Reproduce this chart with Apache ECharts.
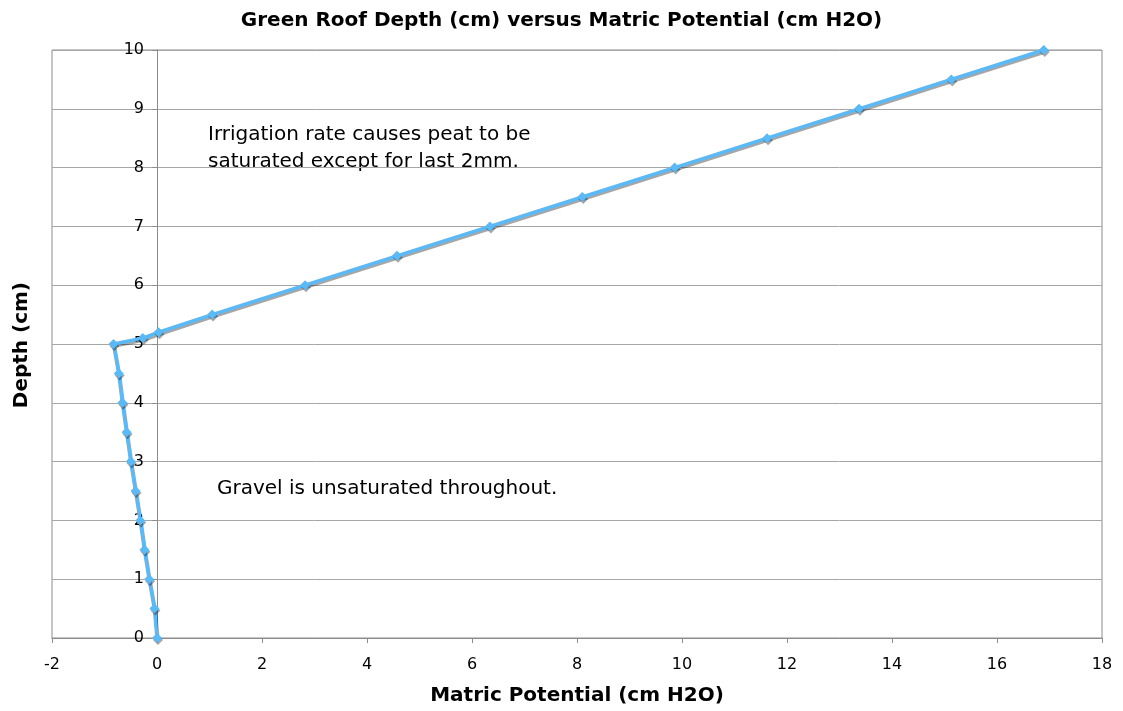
<!DOCTYPE html>
<html>
<head>
<meta charset="utf-8">
<script src="https://cdn.jsdelivr.net/npm/echarts@6/dist/echarts.min.js"></script>
<style>
  html, body { margin: 0; padding: 0; background: #fff; }
  #chart { width: 1123px; height: 711px; }
</style>
</head>
<body>
<div id="chart"></div>
<script>
// depth (cm) and matric potential (cm H2O)
const depth = [0, 0.5, 1, 1.5, 2, 2.5, 3, 3.5, 4, 4.5, 5, 5.1, 5.2, 5.5, 6, 6.5, 7, 7.5, 8, 8.5, 9, 9.5, 10];
const potential = [0, -0.05, -0.15, -0.24, -0.32, -0.41, -0.5, -0.58, -0.66, -0.73, -0.83, -0.27, 0.03, 1.05, 2.82, 4.57, 6.34, 8.1, 9.86, 11.62, 13.37, 15.13, 16.89];

const font = 'DejaVu Sans';
const chart = echarts.init(document.getElementById('chart'));

chart.setOption({
  animation: false,
  title: {
    text: 'Green Roof Depth (cm) versus Matric Potential (cm H2O)',
    left: 'center',
    top: 6,
    textStyle: { fontFamily: font, fontSize: 20, fontWeight: 'bold', color: '#000' }
  },
  grid: {
    left: 52, right: 21, top: 50, bottom: 72,
    show: true, borderColor: '#8c8c8c', borderWidth: 1
  },
  xAxis: {
    type: 'value',
    min: -2, max: 18, interval: 2,
    name: 'Matric Potential (cm H2O)',
    nameLocation: 'middle',
    nameGap: 48,
    nameTextStyle: { fontFamily: font, fontSize: 20, fontWeight: 'bold', color: '#000' },
    axisLine: { lineStyle: { color: '#8c8c8c' } },
    axisTick: { show: true, length: 5, lineStyle: { color: '#8c8c8c' } },
    axisLabel: { fontFamily: font, fontSize: 16, color: '#000', margin: 19 },
    splitLine: { show: false }
  },
  yAxis: {
    type: 'value',
    min: 0, max: 10, interval: 1,
    offset: -105,
    axisLine: { show: true, onZero: false, lineStyle: { color: '#8c8c8c' } },
    axisTick: { show: true, length: 5, lineStyle: { color: '#8c8c8c' } },
    axisLabel: { fontFamily: font, fontSize: 16, color: '#000', margin: 13 },
    splitLine: { show: true, lineStyle: { color: '#a6a6a6', width: 1 } }
  },
  graphic: [
    {
      type: 'text', left: 12, top: 282, rotation: Math.PI / 2,
      style: { text: 'Depth (cm)', fontFamily: font, fontSize: 20, fontWeight: 'bold', fill: '#000' }
    },
    {
      type: 'text', left: 208, top: 121,
      style: {
        text: 'Irrigation rate causes peat to be\nsaturated except for last 2mm.',
        fontFamily: font, fontSize: 20, lineHeight: 27, fill: '#000'
      }
    },
    {
      type: 'text', left: 217, top: 479,
      style: { text: 'Gravel is unsaturated throughout.', fontFamily: font, fontSize: 20, fill: '#000' }
    }
  ],
  series: [
    {
      type: 'line',
      data: potential.map((p, i) => [p, depth[i]]),
      symbol: 'diamond',
      symbolSize: 10,
      itemStyle: { color: '#5ab9f7', shadowColor: 'rgba(0,0,0,0.35)', shadowOffsetX: 1, shadowOffsetY: 2 },
      lineStyle: { color: '#5ab9f7', width: 3.5, shadowColor: 'rgba(0,0,0,0.35)', shadowOffsetX: 1, shadowOffsetY: 2 }
    }
  ]
});
</script>
</body>
</html>
